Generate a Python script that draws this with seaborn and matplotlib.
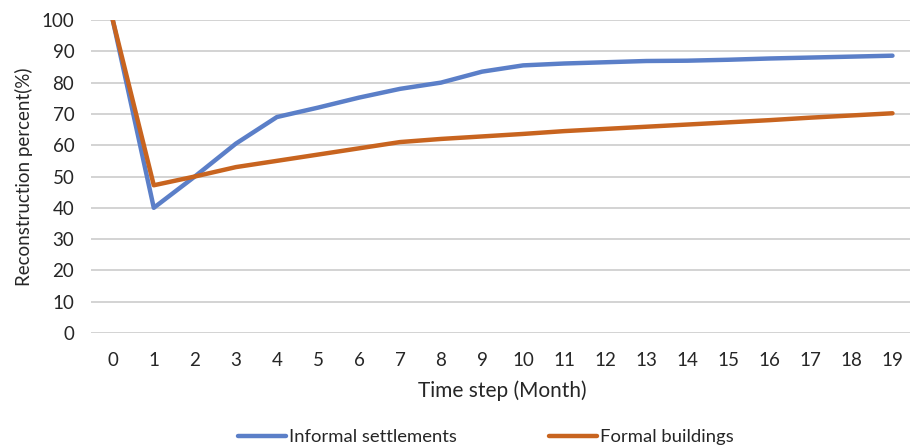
import matplotlib
matplotlib.use("Agg")
import matplotlib.pyplot as plt
import seaborn as sns
import pandas as pd

months = list(range(20))
informal = [100, 40, 50, 60.5, 69, 72, 75.2, 78, 80, 83.5, 85.5, 86.1, 86.5, 86.9, 87.0, 87.3, 87.7, 88.0, 88.3, 88.6]
formal = [100, 47.2, 50, 53, 55, 57, 59, 61, 62, 62.8, 63.6, 64.5, 65.2, 65.9, 66.6, 67.3, 68.0, 68.8, 69.5, 70.2]
series_names = ["Informal settlements", "Formal buildings"]
colors = ["#5B7FC8", "#C8641F"]
yticks = list(range(0, 101, 10))

df = pd.DataFrame({
    "month": months * 2,
    "value": informal + formal,
    "series": [series_names[0]] * len(months) + [series_names[1]] * len(months),
})

sns.set_theme(style="white")
plt.rcParams['font.family'] = ['Lato', 'DejaVu Sans']

fig = plt.figure(figsize=(9.1, 4.48), dpi=100)
# plot area: x from ~91 px to ~913 px, y from 20 (100) to 333 (0)
ax = fig.add_axes([91 / 910, 1 - 333 / 448, 822 / 910, 313 / 448])

sns.lineplot(data=df, x="month", y="value", hue="series", palette=colors,
             linewidth=3.2, ax=ax, legend=True)

ax.set_xlim(-0.53, 19.5)
ax.set_ylim(0, 100)
ax.set_yticks(yticks)
ax.set_xticks(months)
ax.grid(axis="y", color="#D0D0D0", linewidth=1.3)
ax.set_axisbelow(True)
for s in ax.spines.values():
    s.set_visible(False)
ax.tick_params(axis="both", length=0, labelsize=13.5, colors="#262626")
ax.tick_params(axis="x", pad=14)
ax.tick_params(axis="y", pad=12)
ax.set_xlabel("Time step (Month)", fontsize=15, color="#262626", labelpad=8)
ax.set_ylabel("Reconstruction percent(%)", fontsize=13.5, color="#262626", labelpad=6)

handles, labels = ax.get_legend_handles_labels()
ax.legend(handles, labels, loc="center", bbox_to_anchor=((486 - 91) / 822, -104 / 313),
          ncol=2, frameon=False, fontsize=13.3, handlelength=2.6,
          handletextpad=0.15, columnspacing=5.0, labelcolor="#262626")

fig.savefig("out.png", dpi=100)
